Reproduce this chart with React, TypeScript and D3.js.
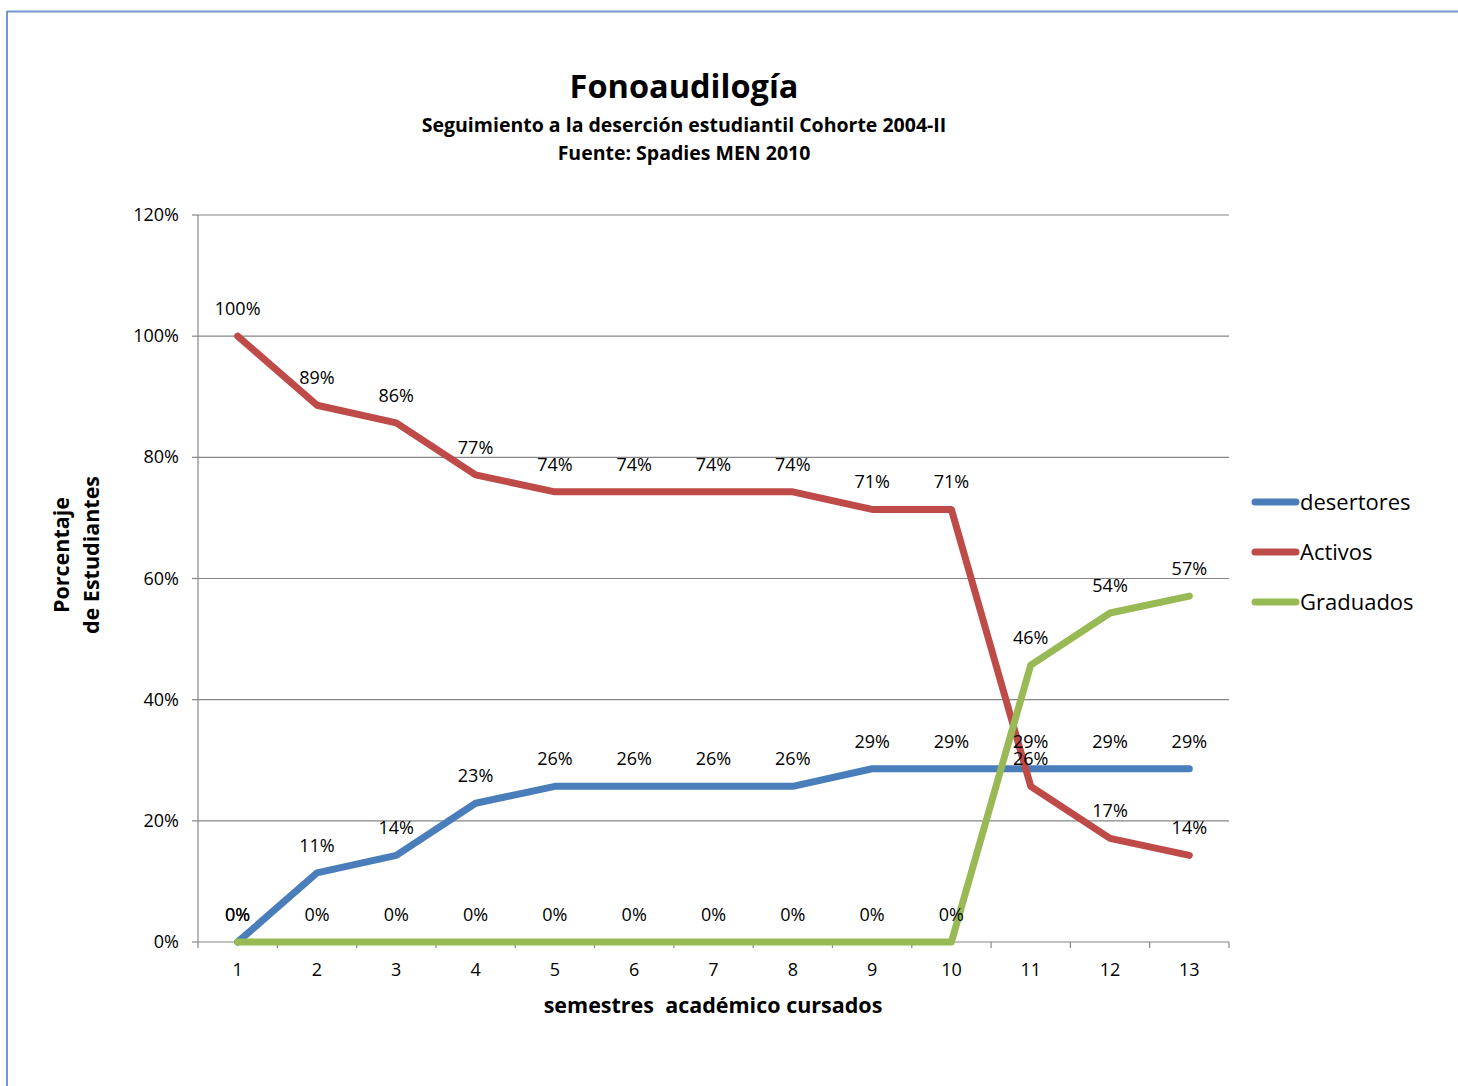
import React from "react";
import * as d3 from "d3";

const semestres = ["1", "2", "3", "4", "5", "6", "7", "8", "9", "10", "11", "12", "13"];
const desertores = [0, 11.4, 14.3, 22.9, 25.7, 25.7, 25.7, 25.7, 28.6, 28.6, 28.6, 28.6, 28.6];
const activos = [100, 88.6, 85.7, 77.1, 74.3, 74.3, 74.3, 74.3, 71.4, 71.4, 25.7, 17.1, 14.3];
const graduados = [0, 0, 0, 0, 0, 0, 0, 0, 0, 0, 45.7, 54.3, 57.1];
const yTicks = [0, 20, 40, 60, 80, 100, 120];

const series = [
  { name: "desertores", values: desertores, color: "#4A7EBB" },
  { name: "Activos", values: activos, color: "#BE4B48" },
  { name: "Graduados", values: graduados, color: "#98B954" },
];

const FONT = "'Open Sans', 'Noto Sans', 'Liberation Sans', sans-serif";

export default function App() {
  const W = 1458, H = 1086;
  const left = 198, right = 1229, top = 215, bottom = 942;
  const x = d3.scaleBand<string>().domain(semestres).range([left, right]);
  const cx = (s: string) => (x(s) as number) + x.bandwidth() / 2;
  const y = d3.scaleLinear().domain([0, 120]).range([bottom, top]);
  const line = d3.line<number>().x((_, i) => cx(semestres[i])).y((v) => y(v));
  const fmt = (v: number) => `${Math.round(v)}%`;

  return (
    <svg width={W} height={H} style={{ position: "absolute", left: 0, top: 0 }} fontFamily={FONT}>
      <rect x={0} y={0} width={W} height={H} fill="#fff" />
      <line x1={7} y1={11.5} x2={W} y2={11.5} stroke="#7097CC" strokeWidth={2} />
      <line x1={7} y1={11} x2={7} y2={H} stroke="#7097CC" strokeWidth={2} />

      <text x={684} y={98} textAnchor="middle" fontSize={32.5} fontWeight="bold">Fonoaudilogía</text>
      <text x={684} y={132} textAnchor="middle" fontSize={19.5} fontWeight="bold">Seguimiento a la deserción estudiantil Cohorte 2004-II</text>
      <text x={684} y={160} textAnchor="middle" fontSize={19.5} fontWeight="bold">Fuente: Spadies MEN 2010</text>

      {yTicks.map((t) => (
        <g key={t}>
          {t > 0 && <line x1={left} x2={right} y1={y(t)} y2={y(t)} stroke="#868686" strokeWidth={1.2} />}
          <line x1={left - 6} x2={left} y1={y(t)} y2={y(t)} stroke="#868686" strokeWidth={1.2} />
          <text x={179} y={y(t) + 6} textAnchor="end" fontSize={18}>{`${t}%`}</text>
        </g>
      ))}
      <line x1={left} x2={left} y1={top} y2={bottom} stroke="#868686" strokeWidth={1.2} />
      <line x1={left} x2={right} y1={bottom} y2={bottom} stroke="#868686" strokeWidth={1.2} />
      {semestres.map((s, i) => (
        <g key={s}>
          <line x1={x(s) as number} x2={x(s) as number} y1={bottom} y2={bottom + 6} stroke="#868686" strokeWidth={1.2} />
          {i === semestres.length - 1 && (
            <line x1={right} x2={right} y1={bottom} y2={bottom + 6} stroke="#868686" strokeWidth={1.2} />
          )}
          <text x={cx(s)} y={bottom + 34} textAnchor="middle" fontSize={18}>{s}</text>
        </g>
      ))}

      <text x={713} y={1013} textAnchor="middle" fontSize={21.5} fontWeight="bold" style={{ whiteSpace: "pre" }}>semestres  académico cursados</text>
      <g transform="translate(69,555) rotate(-90)">
        <text x={0} y={0} textAnchor="middle" fontSize={21.5} fontWeight="bold">Porcentaje</text>
        <text x={0} y={30} textAnchor="middle" fontSize={21.5} fontWeight="bold">de Estudiantes</text>
      </g>

      {series.map((s) => (
        <path key={s.name} d={line(s.values) as string} fill="none" stroke={s.color} strokeWidth={7} strokeLinejoin="round" strokeLinecap="round" />
      ))}

      {series.map((s) => (
        <g key={s.name + "l"}>
          {s.values.map((v, i) => (
            <text key={i} x={cx(semestres[i])} y={y(v) - 21} textAnchor="middle" fontSize={18}>{fmt(v)}</text>
          ))}
        </g>
      ))}

      {series.map((s, i) => (
        <g key={s.name + "g"}>
          <line x1={1255} x2={1296} y1={502 + i * 50} y2={502 + i * 50} stroke={s.color} strokeWidth={7} strokeLinecap="round" />
          <text x={1300} y={510 + i * 50} fontSize={22}>{s.name}</text>
        </g>
      ))}
    </svg>
  );
}
